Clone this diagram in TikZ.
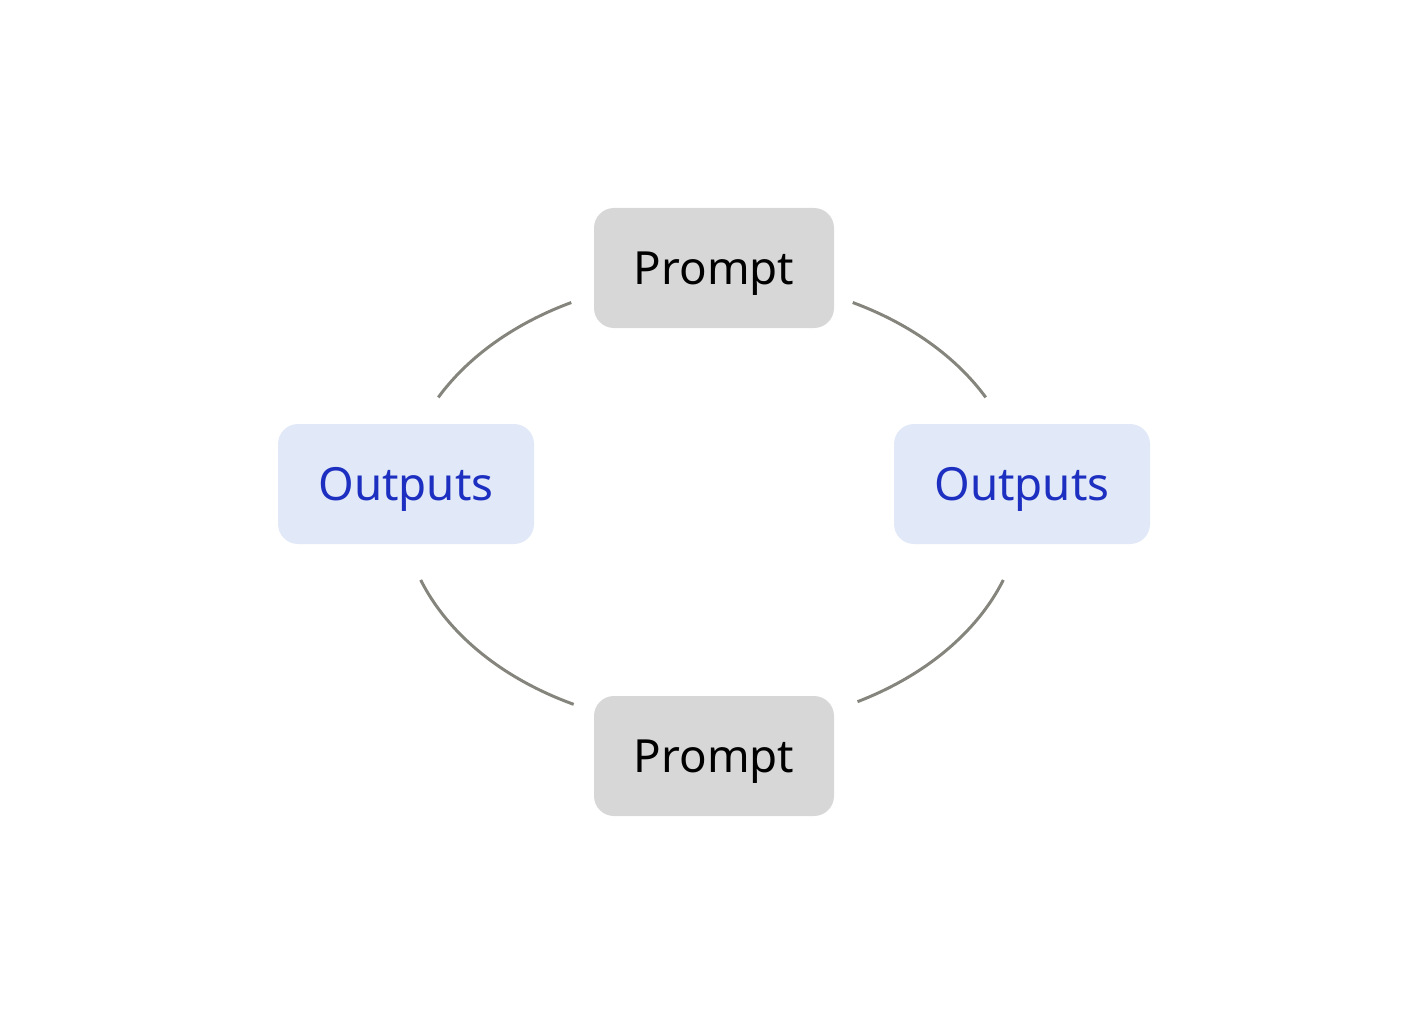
\documentclass[tikz,border=0pt]{standalone}
\usepackage{fontspec}
\setmainfont{Noto Sans}
\definecolor{promptfill}{HTML}{D7D7D7}
\definecolor{outfill}{HTML}{E1E8F8}
\definecolor{outtext}{HTML}{1C2FC0}
\definecolor{arcgray}{HTML}{85857D}
\tikzset{box/.style={rounded corners=0.4cm, minimum height=2.4cm, inner sep=0pt, text depth=0pt, font=\fontsize{26}{31}\selectfont}}
\tikzset{prompt/.style={box, fill=promptfill, minimum width=4.8cm}}
\tikzset{outputs/.style={box, fill=outfill, text=outtext, minimum width=5.12cm}}
\tikzset{loop/.style={draw=arcgray, line width=1.7pt}}
\begin{document}
\begin{tikzpicture}
        \useasboundingbox (0, 0) rectangle (28.56, 20.48);
        \node[prompt] (P1) at (14.28, 15.12) {Prompt};
        \node[prompt] (P2) at (14.28, 5.36) {Prompt};
        \node[outputs] (O1) at (8.12, 10.80) {Outputs};
        \node[outputs] (O2) at (20.44, 10.80) {Outputs};
        \coordinate (C) at (14.24, 10.42);
        \draw[loop] (C) ++(117:6.2cm and 4.5cm) arc[start angle=117, end angle=152, x radius=6.2cm, y radius=4.5cm];
        \draw[loop] (C) ++(28:6.2cm and 4.5cm) arc[start angle=28, end angle=63, x radius=6.2cm, y radius=4.5cm];
        \draw[loop] (C) ++(200:6.2cm and 4.5cm) arc[start angle=200, end angle=243.5, x radius=6.2cm, y radius=4.5cm];
        \draw[loop] (C) ++(-62:6.2cm and 4.5cm) arc[start angle=-62, end angle=-20, x radius=6.2cm, y radius=4.5cm];
\end{tikzpicture}
\end{document}
